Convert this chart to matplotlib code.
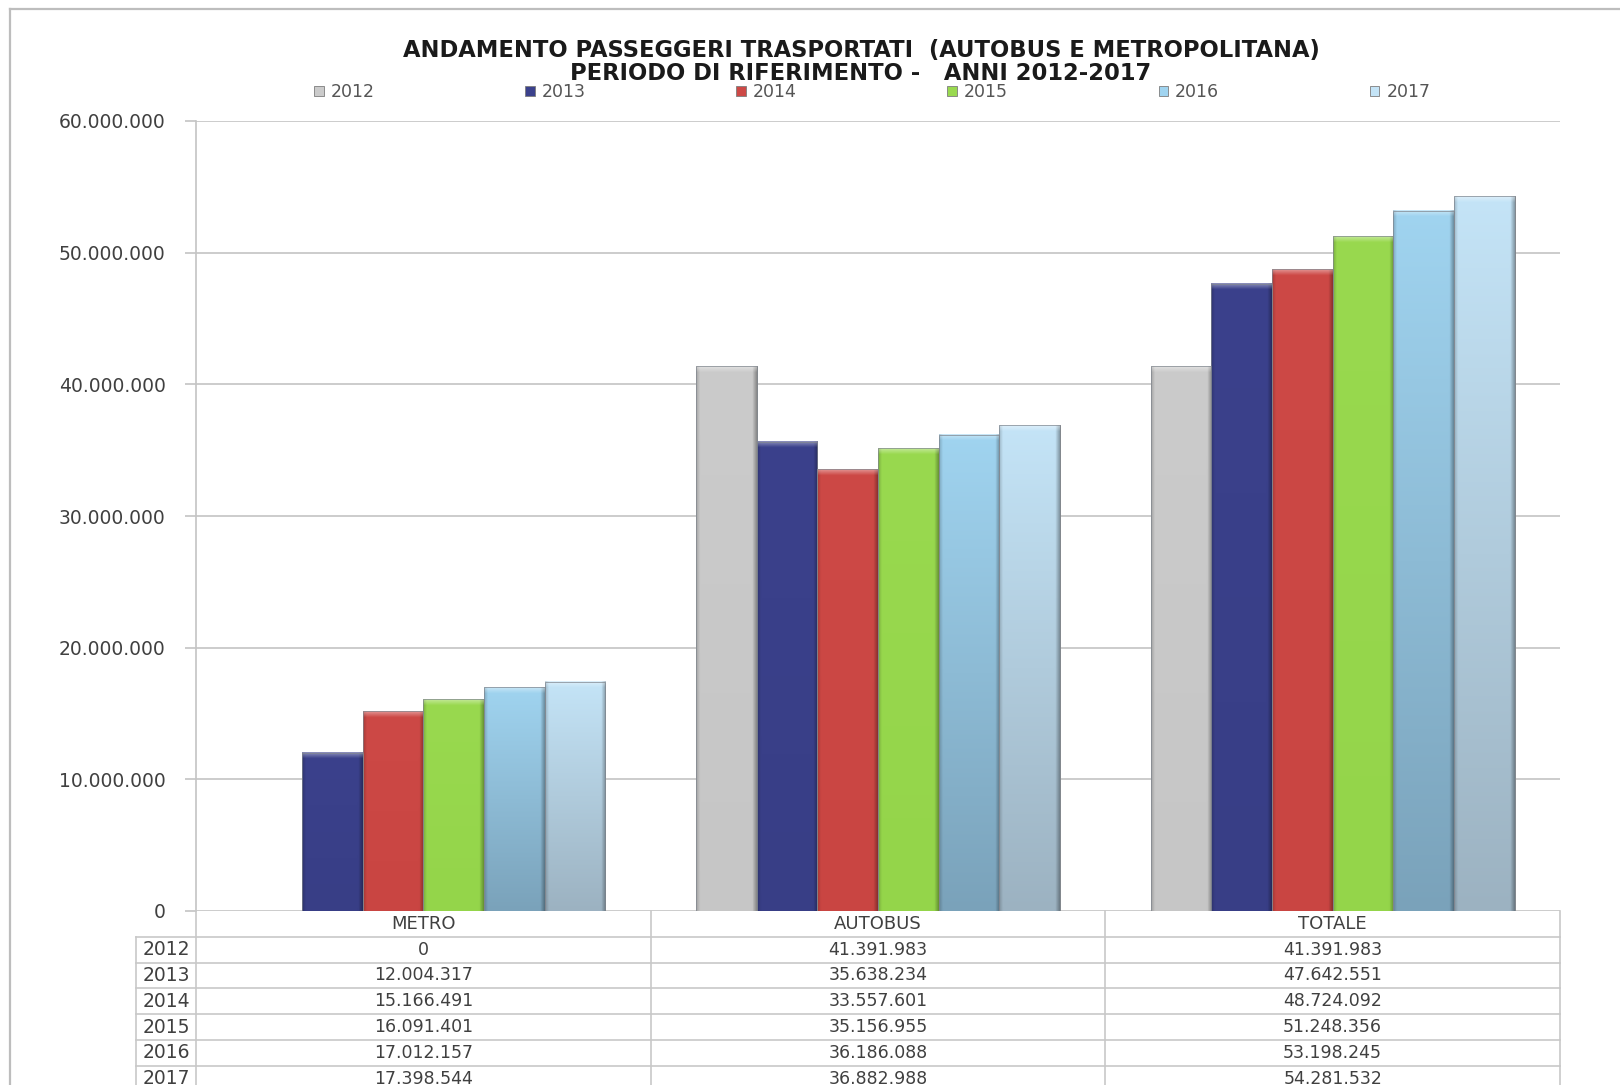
import numpy as np
import matplotlib
matplotlib.use("Agg")
import matplotlib.pyplot as plt
from matplotlib.colors import to_rgb
from matplotlib.ticker import FuncFormatter

# --- data ---
categories = ["METRO", "AUTOBUS", "TOTALE"]
years = ["2012", "2013", "2014", "2015", "2016", "2017"]
metro = [0, 12004317, 15166491, 16091401, 17012157, 17398544]
autobus = [41391983, 35638234, 33557601, 35156955, 36186088, 36882988]
totale = [41391983, 47642551, 48724092, 51248356, 53198245, 54281532]

title_lines = ["ANDAMENTO PASSEGGERI TRASPORTATI  (AUTOBUS E METROPOLITANA)",
               "PERIODO DI RIFERIMENTO -   ANNI 2012-2017"]

# fill colours per year: (top, bottom) of the vertical gradient
year_colors = [("#cbcbcb", "#c6c6c6"),
               ("#3b418c", "#383e86"),
               ("#cd4946", "#c94542"),
               ("#99d94f", "#94d54a"),
               ("#a0d4f0", "#7aa2ba"),
               ("#c4e4f7", "#9cb2c1")]


def fmt_it(v):
    return f"{v:,.0f}".replace(",", ".")


W, H = 1620, 1085
fig = plt.figure(figsize=(W / 100, H / 100), dpi=100)
plt.rcParams["font.family"] = ["DejaVu Sans"]

# outer frame of the chart area
fig.add_artist(plt.Line2D([10 / W, 10 / W], [0, 1 - 9 / H], transform=fig.transFigure,
                          color="#bdbdbd", lw=1.6))
fig.add_artist(plt.Line2D([10 / W, 1], [1 - 9 / H, 1 - 9 / H], transform=fig.transFigure,
                          color="#bdbdbd", lw=1.6))

left, right, top, bottom = 196, 1560, 121, 911
ax = fig.add_axes([left / W, 1 - bottom / H, (right - left) / W, (bottom - top) / H])

series = np.array([metro, autobus, totale]).T  # rows = years
x = np.arange(len(categories))
n = len(years)
bw = 0.8 / n
px_per_unit = (bottom - top) / 60e6


def shade_bar(patch, c_top, c_bot):
    x0, y0 = patch.get_x(), patch.get_y()
    w, h = patch.get_width(), patch.get_height()
    if h <= 0:
        return
    ny = max(int(h * px_per_unit), 2)
    nx = 60
    t = np.linspace(0, 1, ny)[:, None, None]
    img = np.array(to_rgb(c_bot)) * (1 - t) + np.array(to_rgb(c_top)) * t
    img = np.repeat(img, nx, axis=1)
    # darker rims on the sides, a bit stronger on the right
    u = np.linspace(0, 1, nx)
    rim = 1 - 0.18 * np.clip(1 - u / 0.06, 0, 1) - 0.3 * np.clip(1 - (1 - u) / 0.07, 0, 1)
    img = img * rim[None, :, None]
    # soft bevel on top
    bev = min(6, ny)
    k = np.linspace(0.05, 0.4, bev)[:, None, None]
    img[-bev:] = img[-bev:] * (1 - k) + k
    ax.imshow(np.clip(img, 0, 1), origin="lower", extent=[x0, x0 + w, y0, y0 + h],
              aspect="auto", interpolation="bilinear", zorder=3,
              clip_path=patch, clip_on=True)


for i, yr in enumerate(years):
    c_top, c_bot = year_colors[i]
    bars = ax.bar(x + (i - (n - 1) / 2) * bw, series[i], bw, color=c_top,
                  edgecolor="#7d7d7d", linewidth=0.6, zorder=2, label=yr)
    for p in bars:
        shade_bar(p, c_top, c_bot)
        if p.get_height() > 0:
            ax.add_patch(plt.Rectangle((p.get_x(), 0), p.get_width(), p.get_height(),
                                       fill=False, edgecolor="#80868e", lw=0.5, zorder=4))

ax.set_xlim(-0.5, 2.5)
ax.set_ylim(0, 60e6)
ax.set_yticks(np.arange(0, 60e6 + 1, 10e6))
ax.yaxis.set_major_formatter(FuncFormatter(lambda v, p: fmt_it(v)))
ax.grid(axis="y", color="#c4c4c4", lw=1.2, zorder=0)
ax.set_axisbelow(True)
ax.tick_params(axis="y", length=8, width=1.2, color="#c4c4c4", pad=14,
               labelsize=13.5, labelcolor="#404040")
ax.tick_params(axis="x", length=0, labelbottom=False)
for s in ["top", "right", "bottom"]:
    ax.spines[s].set_visible(False)
ax.spines["left"].set_color("#c4c4c4")
ax.spines["left"].set_linewidth(1.2)

# title and legend
for k, line in enumerate(title_lines):
    fig.text(861 / W, 1 - (50 + 24 * k) / H, line, ha="center", va="center",
             fontsize=16.3, fontweight="bold", color="#1a1a1a")
leg = ax.legend(loc="center left", bbox_to_anchor=((314 - left) / (right - left), 1 + (top - 92) / (bottom - top)),
                ncol=6, frameon=False, fontsize=12.5, handlelength=0.55, handleheight=0.55,
                handletextpad=0.4, columnspacing=8.68, borderpad=0, borderaxespad=0)
for t in leg.get_texts():
    t.set_color("#555555")

# data table under the plot
row_h = 25.8
tleft = 136
tab = fig.add_axes([tleft / W, 1 - (bottom + 7 * row_h) / H, (right - tleft) / W, 7 * row_h / H])
yc_w = (left - tleft) / (right - left) * 3
tab.set_xlim(-0.5 - yc_w, 2.5)
tab.set_ylim(7, 0)
tab.axis("off")
lc = "#c8c8c8"
for r in range(1, 8):
    tab.plot([-0.5 - yc_w, 2.5], [r, r], color=lc, lw=1.2, clip_on=False)
tab.plot([-0.5 - yc_w] * 2, [1, 7], color=lc, lw=1.2, clip_on=False)
for xv in [-0.5, 0.5, 1.5, 2.5]:
    tab.plot([xv, xv], [0, 7], color=lc, lw=1.2, clip_on=False)
for j, cat in enumerate(categories):
    tab.text(j, 0.5, cat, ha="center", va="center", fontsize=13, color="#404040")
for i, yr in enumerate(years):
    tab.text(-0.5 - yc_w / 2, i + 1.5, yr, ha="center", va="center", fontsize=13.5, color="#404040")
    for j in range(len(categories)):
        tab.text(j, i + 1.5, fmt_it(series[i][j]), ha="center", va="center",
                 fontsize=12.5, color="#404040")

fig.savefig("out.png", dpi=100)
